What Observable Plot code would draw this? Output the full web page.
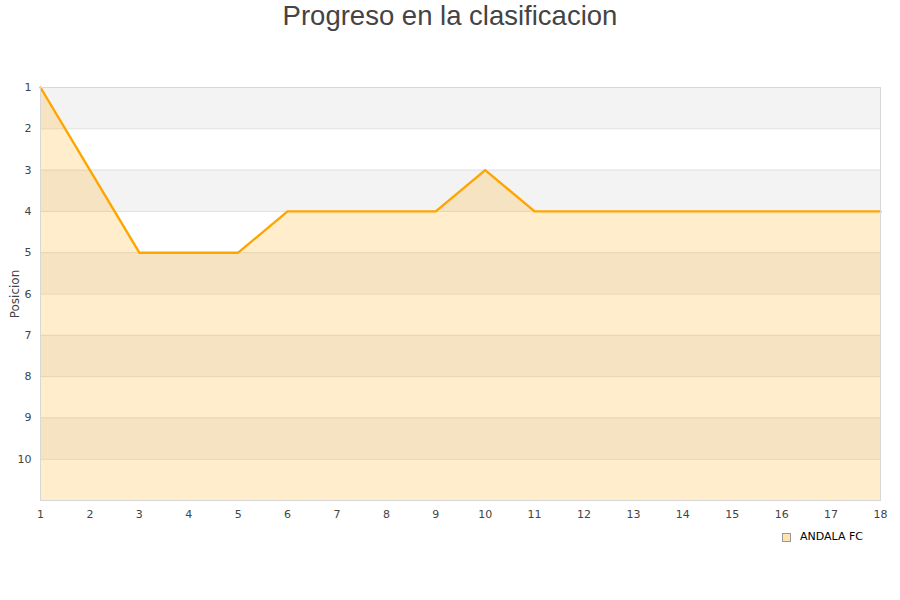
<!DOCTYPE html>
<html>
<head>
<meta charset="utf-8">
<script src="https://cdn.jsdelivr.net/npm/d3@7"></script>
<script src="https://cdn.jsdelivr.net/npm/@observablehq/plot@0.6"></script>
<style>
  body { margin: 0; background: #fff; width: 900px; height: 600px; overflow: hidden; }
  #title {
    height: 40px; line-height: 32px; text-align: center;
    font-family: "Liberation Sans", Arial, sans-serif; font-size: 27.5px; color: #444;
  }
  #legend {
    padding-top: 10px; padding-left: 782px; height: 14px; line-height: 14px;
    font-family: "DejaVu Sans", sans-serif; font-size: 11px; color: #000;
    display: flex; align-items: center;
  }
  #legend .sw {
    width: 7px; height: 7px; border: 1px solid #999; background: #ffe4b0; margin-right: 9px;
  }
</style>
</head>
<body>
<div id="title">Progreso en la clasificacion</div>
<div id="chart"></div>
<div id="legend"><span class="sw"></span><span>ANDALA FC</span></div>
<script>
// Matchdays (jornadas) and league position after each one
const jornadas = [1, 2, 3, 4, 5, 6, 7, 8, 9, 10, 11, 12, 13, 14, 15, 16, 17, 18];
const posicion = [1, 3, 5, 5, 5, 4, 4, 4, 4, 3, 4, 4, 4, 4, 4, 4, 4, 4];
const equipo = "ANDALA FC";
const yTicks = [1, 2, 3, 4, 5, 6, 7, 8, 9, 10];
// shaded background stripes (position ranges)
const bandStart = [1, 3, 5, 7, 9];

const data = jornadas.map((j, i) => ({jornada: j, pos: posicion[i], equipo}));
const bands = bandStart.map(b => ({y1: b, y2: b + 1}));
const gridLines = d3.range(1, 12);

const chart = Plot.plot({
  width: 900,
  height: 480,
  marginTop: 47,
  marginBottom: 20,
  marginLeft: 40,
  marginRight: 20,
  style: {fontFamily: "DejaVu Sans, sans-serif", fontSize: "11px", color: "#444"},
  x: {domain: [1, 18]},
  y: {domain: [1, 11], reverse: true},
  marks: [
    Plot.rectY(bands, {x1: 1, x2: 18, y1: "y1", y2: "y2", fill: "#f3f3f3"}),
    Plot.ruleY(gridLines, {stroke: "#e0e0e0", strokeWidth: 1}),
    Plot.areaY(data, {x: "jornada", y1: 11, y2: "pos", fill: "orange", fillOpacity: 0.2}),
    Plot.line(data, {x: "jornada", y: "pos", stroke: "#ffa500", strokeWidth: 2.4}),
    Plot.frame({stroke: "#d8d8d8"}),
    Plot.axisX({ticks: jornadas, tickSize: 0, tickPadding: 10, label: null, tickFormat: d3.format("d")}),
    Plot.axisY({ticks: yTicks, tickSize: 0, tickPadding: 9, tickFormat: d3.format("d"), label: null}),
    Plot.axisY({ticks: [], tickSize: 0, fontSize: 12,
      label: "Posicion", labelAnchor: "center", labelOffset: 30, labelArrow: "none"})
  ]
});
document.getElementById("chart").appendChild(chart);
</script>
</body>
</html>
